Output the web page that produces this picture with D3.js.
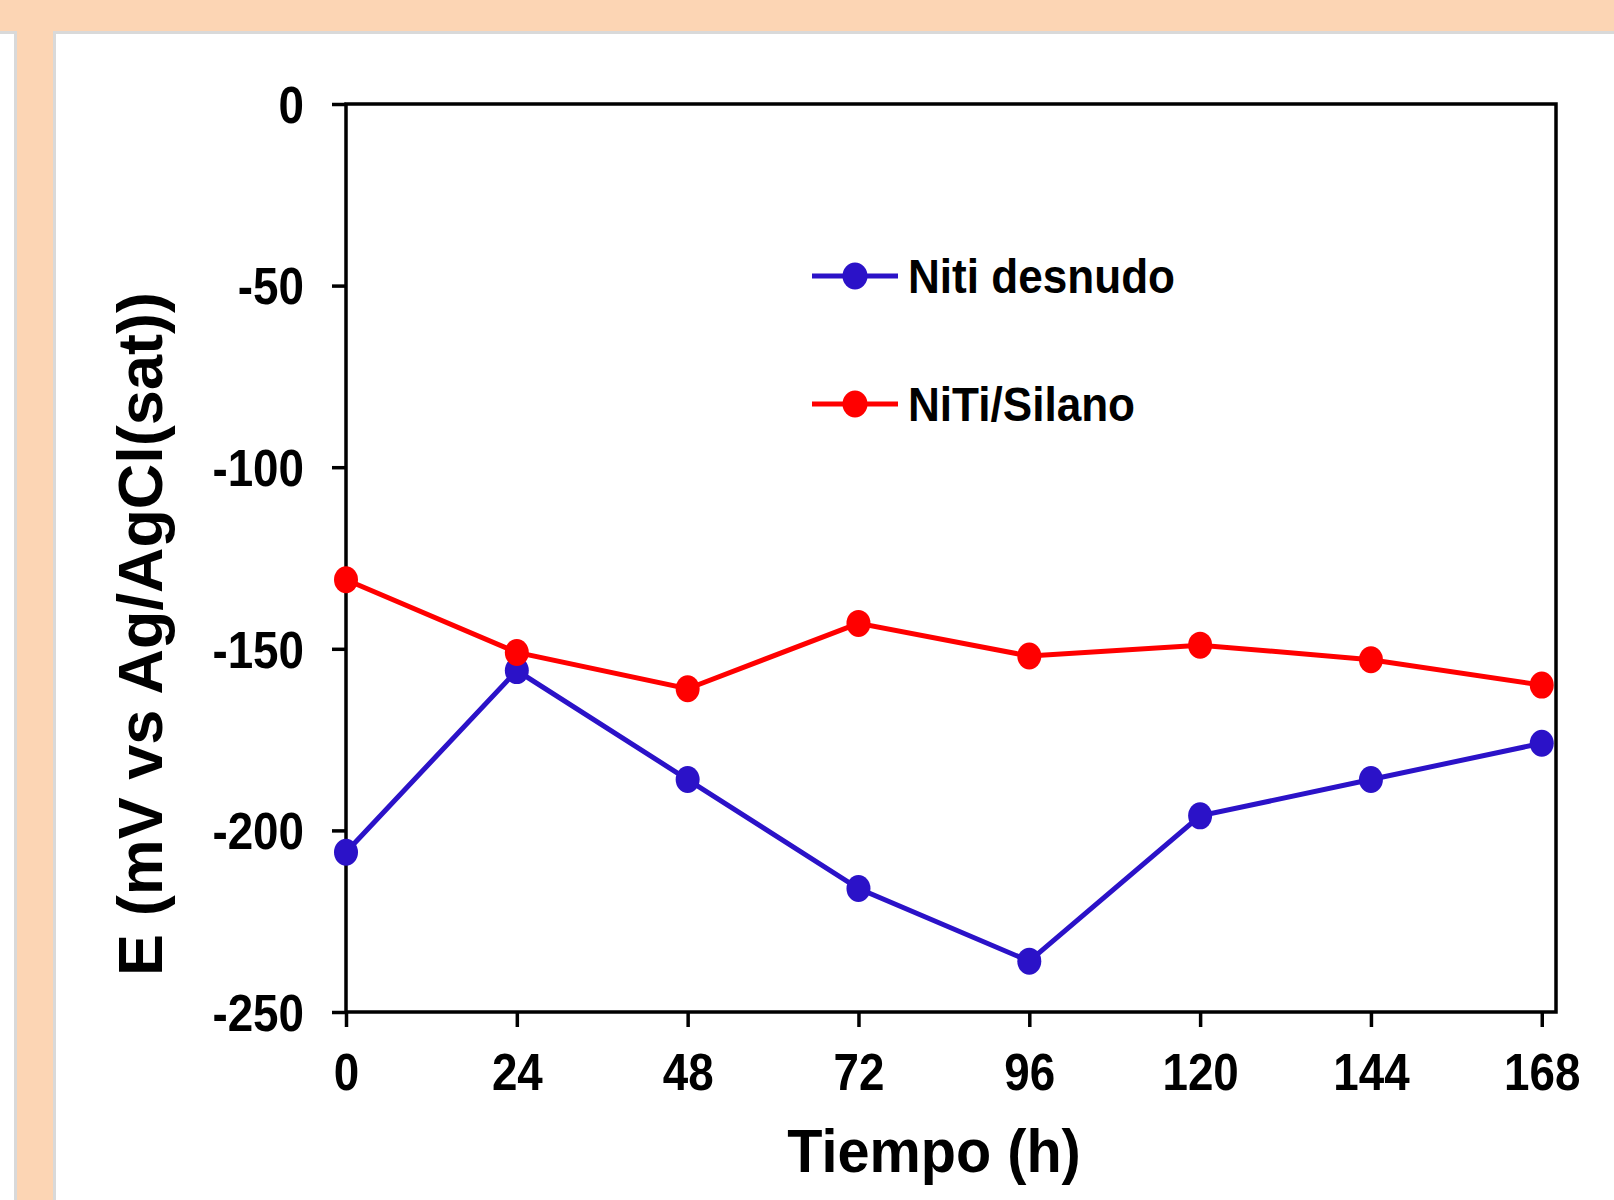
<!DOCTYPE html>
<html>
<head>
<meta charset="utf-8">
<script src="https://cdn.jsdelivr.net/npm/d3@7"></script>
<style>
  body { margin: 0; background: #fff; }
  svg { display: block; font-family: "Liberation Sans", Arial, sans-serif; font-weight: bold; }
</style>
</head>
<body>
<svg id="chart" width="1614" height="1200"></svg>
<script>
var hours   = [0, 24, 48, 72, 96, 120, 144, 168];
var desnudo = [-206, -156, -186, -216, -236, -196, -186, -176];
var silano  = [-131, -151, -161, -143, -152, -149, -153, -160];
var yTicks  = [0, -50, -100, -150, -200, -250];
var names   = ["Niti desnudo", "NiTi/Silano"];
var colors  = ["#2b12c8", "#ff0000"];

window.addEventListener( "load", makeChart );
function makeChart() {
    var svg = d3.select( "#chart" );

    // page frame: peach band on top and on the left
    svg.append( "rect" ).attr( "x", 0 ).attr( "y", 0 ).attr( "width", 1614 ).attr( "height", 34 ).attr( "fill", "#d9d9d9" );
    svg.append( "rect" ).attr( "x", 14 ).attr( "y", 0 ).attr( "width", 42 ).attr( "height", 1200 ).attr( "fill", "#d9d9d9" );
    svg.append( "rect" ).attr( "x", 0 ).attr( "y", 0 ).attr( "width", 1614 ).attr( "height", 31 ).attr( "fill", "#fcd5b4" );
    svg.append( "rect" ).attr( "x", 17 ).attr( "y", 0 ).attr( "width", 36 ).attr( "height", 1200 ).attr( "fill", "#fcd5b4" );

    var scX = d3.scaleLinear().domain([0, 170]).range([346, 1556]),
        scY = d3.scaleLinear().domain([-250, 0]).range([1012, 104]);

    // plot box
    svg.append( "rect" ).attr( "x", scX(0) ).attr( "y", scY(0) )
        .attr( "width", scX(170) - scX(0) ).attr( "height", scY(-250) - scY(0) )
        .attr( "fill", "none" ).attr( "stroke", "#000" ).attr( "stroke-width", 3.5 );

    var ax = svg.append( "g" ).attr( "transform", "translate(0," + scY(-250) + ")" )
        .call( d3.axisBottom(scX).tickValues(hours).tickSize(15).tickSizeOuter(0).tickPadding(0) );
    var ay = svg.append( "g" ).attr( "transform", "translate(" + scX(0) + ",0)" )
        .call( d3.axisLeft(scY).tickValues(yTicks).tickSize(14).tickSizeOuter(0).tickPadding(0) );
    ax.select( ".domain" ).remove();
    ay.select( ".domain" ).remove();
    svg.selectAll( ".tick line" ).attr( "stroke", "#000" ).attr( "stroke-width", 3.5 );

    ax.selectAll( ".tick text" ).text( null );
    ax.selectAll( ".tick" ).append( "text" ).text( d=>d )
        .attr( "fill", "#000" ).attr( "font-size", 52 ).attr( "text-anchor", "middle" )
        .attr( "transform", "translate(0,78) scale(0.88,1)" );
    ay.selectAll( ".tick text" ).text( null );
    ay.selectAll( ".tick" ).append( "text" ).text( d=>d )
        .attr( "fill", "#000" ).attr( "font-size", 52 ).attr( "text-anchor", "end" )
        .attr( "dy", "0.35em" ).attr( "transform", "translate(-42,0) scale(0.88,1)" );

    // axis titles
    svg.append( "text" ).text( "Tiempo (h)" ).attr( "font-size", 62 ).attr( "text-anchor", "middle" )
        .attr( "transform", "translate(934,1172) scale(0.93,1)" );
    svg.append( "text" ).text( "E (mV vs Ag/AgCl(sat))" ).attr( "font-size", 63 ).attr( "text-anchor", "middle" )
        .attr( "transform", "translate(162,634) rotate(-90)" );

    // series
    var series = [desnudo, silano];
    var line = d3.line().x( (d,i)=>scX(hours[i]) ).y( d=>scY(d) );
    series.forEach( function( s, k ) {
        svg.append( "path" ).datum( s ).attr( "d", line )
            .attr( "fill", "none" ).attr( "stroke", colors[k] ).attr( "stroke-width", 5 );
        svg.selectAll( null ).data( s ).enter().append( "ellipse" )
            .attr( "cx", (d,i)=>scX(hours[i]) ).attr( "cy", d=>scY(d) )
            .attr( "rx", 12 ).attr( "ry", 13.5 ).attr( "fill", colors[k] );
    } );

    // legend
    var lg = svg.selectAll( ".lg" ).data( names ).enter().append( "g" )
        .attr( "transform", (d,i)=>"translate(812," + (276 + i*128) + ")" );
    lg.append( "line" ).attr( "x1", 0 ).attr( "x2", 86 )
        .attr( "stroke", (d,i)=>colors[i] ).attr( "stroke-width", 5 );
    lg.append( "ellipse" ).attr( "cx", 43 ).attr( "rx", 12.5 ).attr( "ry", 13.5 )
        .attr( "fill", (d,i)=>colors[i] );
    lg.append( "text" ).text( d=>d ).attr( "font-size", 49 ).attr( "dy", "0.35em" )
        .attr( "transform", "translate(96,0) scale(0.9,1)" );
}
</script>
</body>
</html>
